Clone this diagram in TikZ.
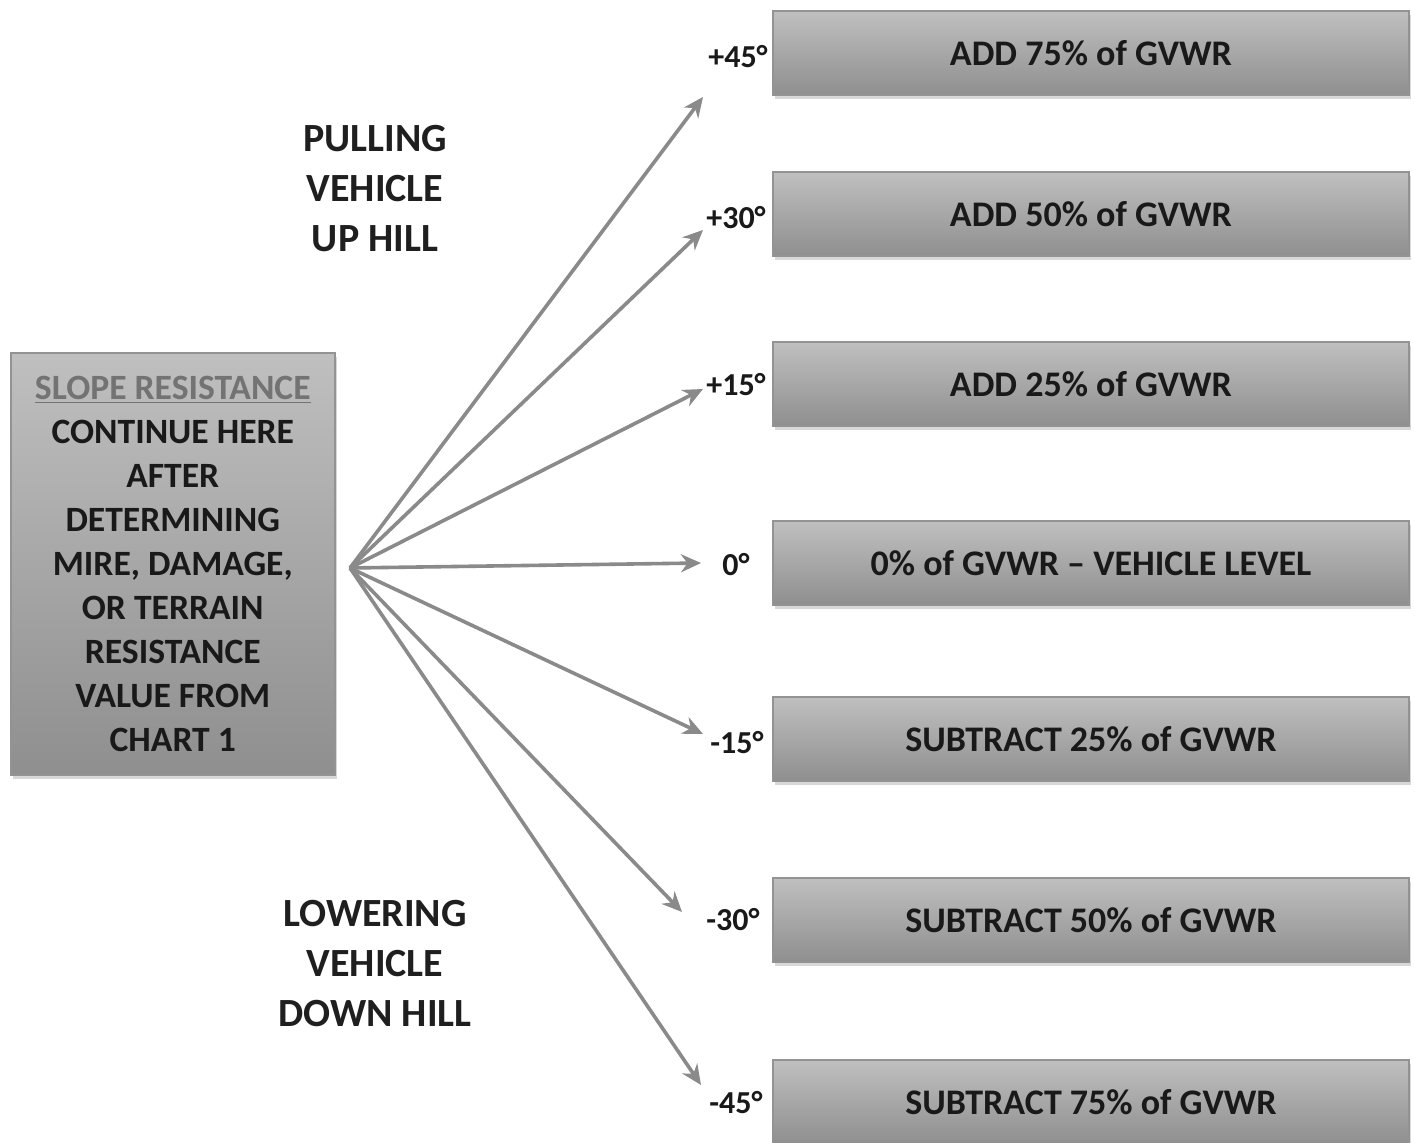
\documentclass[tikz,border=0pt]{standalone}
\usepackage{fontspec}
\setmainfont{Carlito}
\usetikzlibrary{arrows.meta,shadows}
\begin{document}
\begin{tikzpicture}[x=0.5pt,y=-0.5pt,
  gbox/.style={draw=gray!85, line width=0.8pt, top color=gray!50, bottom color=gray!88,
    drop shadow={shadow xshift=1pt,shadow yshift=-2pt,opacity=0.3}, inner sep=0pt},
  rbox/.style={gbox, minimum width=318pt, minimum height=42pt, font=\fontsize{18}{21}\selectfont\bfseries, text=black!90},
  deg/.style={font=\fontsize{16}{18}\selectfont\bfseries, text=black!90, inner sep=0pt},
  side/.style={font=\fontsize{20}{25}\selectfont\bfseries, text=black!88, align=center},
  arr/.style={draw=gray!92, line width=1.8pt, -{Stealth[length=10pt,width=9pt]}}
]
\useasboundingbox (0,0) rectangle (1415,1143);
\fill[white] (0,0) rectangle (1415,1143);

% left box
\node[gbox, minimum width=162pt, minimum height=211pt, anchor=north west,
  align=center, font=\fontsize{17.8}{22}\selectfont\bfseries, text=black!90] (left) at (10,352)
  {\textcolor{gray!90!black}{\underline{SLOPE RESISTANCE}}\\CONTINUE HERE\\AFTER\\DETERMINING\\MIRE, DAMAGE,\\OR TERRAIN\\RESISTANCE\\VALUE FROM\\CHART 1};

% right boxes
\node[rbox] (b1) at (1091,53) {ADD 75\% of GVWR};
\node[rbox] (b2) at (1091,214) {ADD 50\% of GVWR};
\node[rbox] (b3) at (1091,384) {ADD 25\% of GVWR};
\node[rbox] (b4) at (1091,563) {0\% of GVWR -- VEHICLE LEVEL};
\node[rbox] (b5) at (1091,739) {SUBTRACT 25\% of GVWR};
\node[rbox] (b6) at (1091,920) {SUBTRACT 50\% of GVWR};
\node[rbox] (b7) at (1091,1102) {SUBTRACT 75\% of GVWR};

% degree labels
\node[deg] (d1) at (738,57) {+45°};
\node[deg] (d2) at (736,218) {+30°};
\node[deg] (d3) at (736,385) {+15°};
\node[deg] (d4) at (736,565) {0°};
\node[deg] (d5) at (737,743) {-15°};
\node[deg] (d6) at (733,920) {-30°};
\node[deg] (d7) at (736,1103) {-45°};

% side labels
\node[side] (up) at (375,189) {PULLING\\VEHICLE\\UP HILL};
\node[side] (down) at (375,964) {LOWERING\\VEHICLE\\DOWN HILL};

% arrows
\coordinate (o) at (350,568);
\coordinate (t1) at (703,97);
\coordinate (t2) at (703,230);
\coordinate (t3) at (703,389);
\coordinate (t4) at (701,563);
\coordinate (t5) at (703,734);
\coordinate (t6) at (682,912);
\coordinate (t7) at (701,1085);
\foreach \t in {t1,t2,t3,t4,t5,t6,t7} \draw[arr] (o) -- (\t);
\end{tikzpicture}
\end{document}
